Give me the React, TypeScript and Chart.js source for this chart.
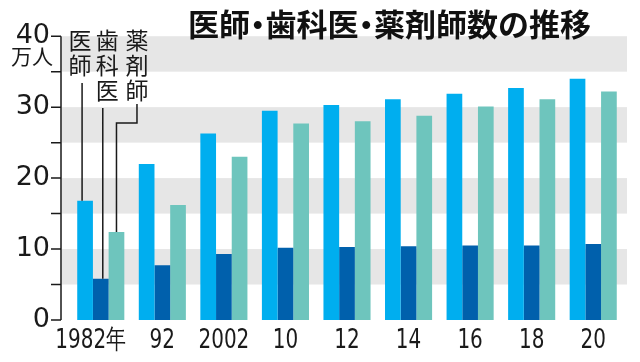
import React, { useEffect, useRef } from 'react';
import { Chart, registerables } from 'chart.js';

Chart.register(...registerables);

// ---- data ----
const years = ['1982年', '92', '2002', '10', '12', '14', '16', '18', '20'];
const doctors = [16.8, 22.0, 26.3, 29.5, 30.3, 31.1, 31.9, 32.7, 34.0];
const dentists = [5.8, 7.7, 9.3, 10.2, 10.3, 10.4, 10.5, 10.5, 10.7];
const pharmacists = [12.4, 16.2, 23.0, 27.7, 28.0, 28.8, 30.1, 31.1, 32.2];
const seriesNames = ['医師', '歯科医', '薬剤師'];
const yLabelValues = [0, 10, 20, 30, 40];
const titleText = '医師・歯科医・薬剤師数の推移';
const unitText = '万人';

// ---- style ----
const COLORS = ['#00AEEF', '#0060AC', '#6EC5BD'];
const BAND = '#E6E6E6';
const BANDS = [[5, 10], [15, 20], [25, 30], [35, 40]];
const AXIS_X = 61;
const BAND_RIGHT = 627;
const INK = '#1a1a1a';
const X_FONT = '27px "DejaVu Sans", sans-serif';
const X_SQUEEZE = 0.74;
const TITLE_SIZE = 31;

const decorPlugin = {
  id: 'decor',
  beforeDatasetsDraw(chart: any) {
    const { ctx, scales } = chart;
    const y = scales.y;
    ctx.save();
    ctx.fillStyle = BAND;
    for (const [a, b] of BANDS) {
      const top = y.getPixelForValue(b);
      const bot = y.getPixelForValue(a);
      ctx.fillRect(AXIS_X + 1, top, BAND_RIGHT - AXIS_X - 1, bot - top);
    }
    ctx.restore();
  },
  afterDraw(chart: any) {
    const { ctx, scales } = chart;
    const y = scales.y;
    const x = scales.x;
    ctx.save();
    // y axis line and ticks
    ctx.strokeStyle = INK;
    ctx.lineWidth = 1.5;
    ctx.beginPath();
    ctx.moveTo(AXIS_X, y.getPixelForValue(0));
    ctx.lineTo(AXIS_X, y.getPixelForValue(40));
    for (let v = 0; v <= 40; v += 5) {
      const py = y.getPixelForValue(v);
      ctx.moveTo(AXIS_X - 10, py);
      ctx.lineTo(AXIS_X, py);
    }
    ctx.stroke();

    // x category labels (condensed)
    ctx.fillStyle = INK;
    ctx.font = X_FONT;
    ctx.textAlign = 'left';
    ctx.textBaseline = 'alphabetic';
    years.forEach((lab, i) => {
      const px = x.getPixelForValue(i);
      const m = lab.match(/^(\d+)(.*)$/);
      const suffix = m ? m[2] : '';
      const w = ctx.measureText(lab).width * X_SQUEEZE;
      const sw = suffix ? ctx.measureText(suffix).width * X_SQUEEZE : 0;
      const left = px - w / 2 - sw / 2;
      ctx.save();
      ctx.translate(left, 348);
      ctx.scale(X_SQUEEZE, 1);
      ctx.fillText(lab, 0, 0);
      ctx.restore();
    });

    // unit
    ctx.font = '21px "Noto Sans CJK JP"';
    ctx.textAlign = 'right';
    ctx.textBaseline = 'middle';
    ctx.fillText(unitText, 53, 56);

    // title (tight middle dots)
    ctx.font = `bold ${TITLE_SIZE}px "Noto Sans CJK JP"`;
    ctx.textAlign = 'center';
    ctx.textBaseline = 'middle';
    ctx.fillStyle = '#111';
    let tx = 188;
    for (const ch of Array.from(titleText)) {
      const adv = ch === '・' ? TITLE_SIZE * 0.5 : ctx.measureText(ch).width;
      ctx.fillText(ch, tx + adv / 2, 24);
      tx += adv;
    }

    // series labels (vertical) with leader lines
    const m0 = chart.getDatasetMeta(0).data[0];
    const m1 = chart.getDatasetMeta(1).data[0];
    const m2 = chart.getDatasetMeta(2).data[0];
    const colX = [m0.x - 5, m1.x + 6.5, m2.x + 20.5];
    ctx.font = '23px "Noto Sans CJK JP"';
    ctx.textAlign = 'center';
    ctx.fillStyle = INK;
    seriesNames.forEach((name, i) => {
      Array.from(name).forEach((ch, j) => {
        ctx.fillText(ch, colX[i], 40 + j * 25);
      });
    });
    ctx.lineWidth = 1.5;
    ctx.beginPath();
    ctx.moveTo(m0.x - 3, 83);
    ctx.lineTo(m0.x - 3, m0.y);
    ctx.moveTo(m1.x + 2, 108);
    ctx.lineTo(m1.x + 2, m1.y);
    ctx.moveTo(colX[2], 104);
    ctx.lineTo(colX[2], 123);
    ctx.lineTo(m2.x, 123);
    ctx.lineTo(m2.x, m2.y);
    ctx.stroke();
    ctx.restore();
  },
};

export default function App() {
  const ref = useRef<HTMLCanvasElement>(null);
  useEffect(() => {
    document.body.style.margin = '0';
    const chart = new Chart(ref.current as HTMLCanvasElement, {
      type: 'bar',
      data: {
        labels: years,
        datasets: [
          { label: seriesNames[0], data: doctors, backgroundColor: COLORS[0] },
          { label: seriesNames[1], data: dentists, backgroundColor: COLORS[1] },
          { label: seriesNames[2], data: pharmacists, backgroundColor: COLORS[2] },
        ],
      },
      options: {
        responsive: false,
        animation: false,
        layout: { padding: { top: 29, right: 16, left: 0, bottom: 0 } },
        datasets: { bar: { categoryPercentage: 0.765, barPercentage: 1 } },
        plugins: { legend: { display: false }, title: { display: false }, tooltip: { enabled: false } },
        scales: {
          x: {
            grid: { display: false, drawTicks: false },
            border: { display: false },
            ticks: { display: false },
            afterFit: (s: any) => { s.height = 42; },
          },
          y: {
            min: 0,
            max: 40,
            grid: { display: false, drawTicks: false },
            border: { display: false },
            afterBuildTicks: (s: any) => { s.ticks = yLabelValues.map((v) => ({ value: v })); },
            ticks: {
              color: INK,
              font: { family: '"DejaVu Sans", sans-serif', size: 27 },
              padding: 20,
              callback: (v: any) => String(v),
            },
            afterFit: (s: any) => { s.width = 70; },
          },
        },
      },
      plugins: [decorPlugin],
    });
    return () => chart.destroy();
  }, []);
  return (
    <div style={{ width: 640, height: 362, background: '#fff' }}>
      <canvas ref={ref} width={640} height={362} />
    </div>
  );
}
